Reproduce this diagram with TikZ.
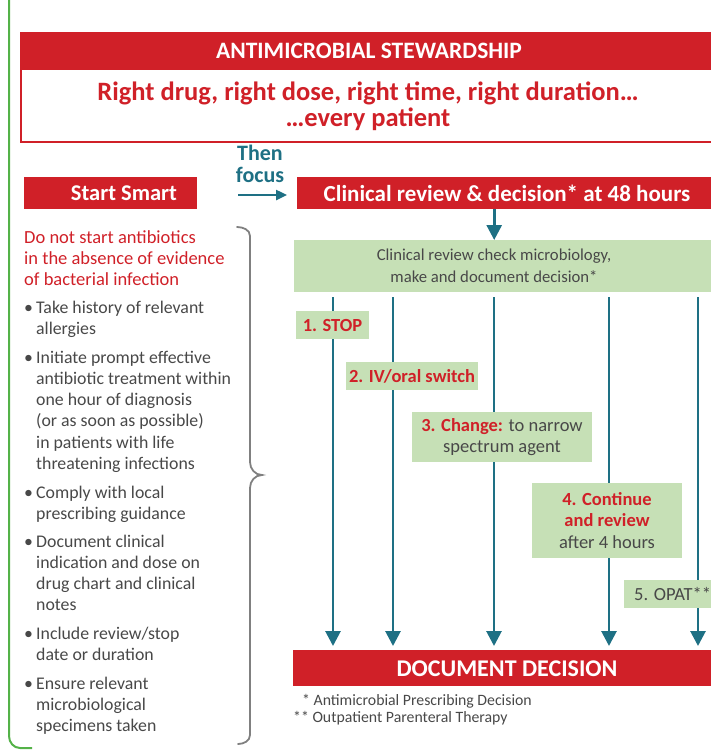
\documentclass[tikz,border=0pt]{standalone}
\usepackage{fontspec}
\setmainfont{Carlito}
\usetikzlibrary{arrows.meta}
\definecolor{nhsred}{RGB}{208,32,40}
\definecolor{teal}{RGB}{30,112,132}
\definecolor{lgreen}{RGB}{198,224,182}
\definecolor{dgray}{RGB}{72,72,72}
\definecolor{frameg}{RGB}{84,178,72}
\newcommand{\colpar}[1]{\parbox[t]{230pt}{\raggedright #1}}
\tikzset{
  redbar/.style={fill=nhsred, draw=none, anchor=north west, inner sep=0pt},
  wtitle/.style={text=white, font=\fontsize{23}{26}\selectfont\bfseries},
  optbox/.style={fill=lgreen, draw=none, anchor=north west, inner sep=0pt},
  opttxt/.style={text=dgray, font=\fontsize{18.5}{21.5}\selectfont, align=center},
  redtxt/.style={text=nhsred},
  graytxt/.style={text=dgray, font=\fontsize{17.8}{21.3}\selectfont, inner sep=0pt, anchor=base west},
  bul/.style={text=dgray, font=\fontsize{17.8}{21.3}\selectfont, inner sep=0pt, anchor=base west},
  flow/.style={draw=teal, line width=2.8pt, -{Triangle[width=15pt,length=15pt]}},
}
\begin{document}
\begin{tikzpicture}[x=1pt,y=-1pt]
\useasboundingbox (0,0) rectangle (711,750);
% left green frame
\draw[frameg, line width=2pt] (9,-2) -- (9,736) to[out=-90,in=180] (20,748) -- (32,748);
% top stewardship box
\node[draw=nhsred, line width=2pt, fill=white, anchor=north west, minimum width=695pt, minimum height=109pt, inner sep=0pt] (frame) at (20,32) {};
\node[redbar, minimum width=695pt, minimum height=38pt] (stew) at (20,32) {};
\node[wtitle, font=\fontsize{23.5}{26}\selectfont\bfseries] (stewt) at (369,51) {ANTIMICROBIAL STEWARDSHIP};
\node[redtxt, font=\fontsize{26.5}{26}\selectfont\bfseries, align=center] (right) at (368,106) {Right drug, right dose, right time, right duration\dots\\\dots every patient};
% start smart and clinical review
\node[redbar, minimum width=173pt, minimum height=32pt] (start) at (24,177) {};
\node[wtitle, font=\fontsize{22.5}{26}\selectfont\bfseries] (startt) at (124,193) {Start Smart};
\node[redbar, minimum width=420pt, minimum height=32pt] (clin) at (297,177) {};
\node[wtitle] (clint) at (507,193) {Clinical review \& decision* at 48 hours};
\node[text=teal, font=\fontsize{22}{22}\selectfont\bfseries, align=center] (then) at (260,164) {Then\\focus};
\coordinate (tf0) at (238,195);
\coordinate (tf1) at (287,195);
\draw[draw=teal, line width=2.4pt, -{Triangle[width=10pt,length=11pt]}] (tf0) -- (tf1);
% green review box
\node[optbox, minimum width=420pt, minimum height=52pt] (rev) at (294,240) {};
\draw[flow] (clin.south -| rev.north) ++(-10,0) coordinate (cr) (cr) -- (cr |- rev.north);
\node[text=dgray, font=\fontsize{16.7}{21.5}\selectfont, align=center] (revt) at (494,266) {Clinical review check microbiology,\\make and document decision*};
% document decision box
\node[redbar, minimum width=420pt, minimum height=36pt] (doc) at (293,650) {};
\node[wtitle, font=\fontsize{24}{26}\selectfont\bfseries] (doct) at (507,669) {DOCUMENT DECISION};
% vertical flows
\foreach \n/\xx in {a/333,b/393,c/494,d/609,e/698}{
  \coordinate (top\n) at (\xx,297);
  \draw[flow] (top\n) -- ([yshift=4pt]top\n |- doc.north);
}
% option boxes
\node[optbox, minimum width=73pt, minimum height=28pt] (o1) at (296,311) {};
\node[opttxt, text=nhsred, font=\fontsize{18.5}{21.5}\selectfont\bfseries] (o1t) at (332.5,325) {1. STOP};
\node[optbox, minimum width=132pt, minimum height=28pt] (o2) at (346,362) {};
\node[opttxt, text=nhsred, font=\fontsize{18.5}{21.5}\selectfont\bfseries] (o2t) at (412,376) {2. IV/oral switch};
\node[optbox, minimum width=180pt, minimum height=50pt] (o3) at (412,412) {};
\node[opttxt] (o3t) at (502,437) {\textcolor{nhsred}{\bfseries 3. Change:} to narrow\\spectrum agent};
\node[optbox, minimum width=150pt, minimum height=75pt] (o4) at (532,483) {};
\node[opttxt] (o4t) at (607,520.5) {\textcolor{nhsred}{\bfseries 4. Continue}\\\textcolor{nhsred}{\bfseries and review}\\after 4 hours};
\node[optbox, minimum width=90pt, minimum height=28pt] (o5) at (624,580) {};
\node[opttxt, anchor=west, inner sep=0pt] (o5t) at (634,594) {5. OPAT**};
% footnotes
\node[text=dgray, font=\fontsize{15.8}{17}\selectfont, anchor=base west, inner sep=0pt] (fn1) at (302,705) {* Antimicrobial Prescribing Decision};
\node[text=dgray, font=\fontsize{15.8}{17}\selectfont, anchor=base west, inner sep=0pt] (fn2) at (293,722) {** Outpatient Parenteral Therapy};
% left column
\node[graytxt, text=nhsred, font=\fontsize{18.5}{21}\selectfont] (warn) at (24,243) {\colpar{Do not start antibiotics\\in the absence of evidence\\of bacterial infection}};
\foreach \i/\yy/\txt in {1/313/{Take history of relevant\\allergies},
  2/363/{Initiate prompt effective\\antibiotic treatment within\\one hour of diagnosis\\(or as soon as possible)\\in patients with life\\threatening infections},
  3/498/{Comply with local\\prescribing guidance},
  4/547/{Document clinical\\indication and dose on\\drug chart and clinical\\notes},
  5/639/{Include review/stop\\date or duration},
  6/689/{Ensure relevant\\microbiological\\specimens taken}}{
  \node[bul] (b\i) at (24,\yy) {\textbullet};
  \node[graytxt] (p\i) at (36,\yy) {\colpar{\txt}};
}
% brace
\draw[draw=gray, line width=1.8pt, line cap=round] (237,227) to[out=0,in=90] (250,236) -- (250,462) to[out=-90,in=180] (262,475) to[out=180,in=90] (250,488) -- (250,735) to[out=-90,in=0] (238,744);
\end{tikzpicture}
\end{document}
